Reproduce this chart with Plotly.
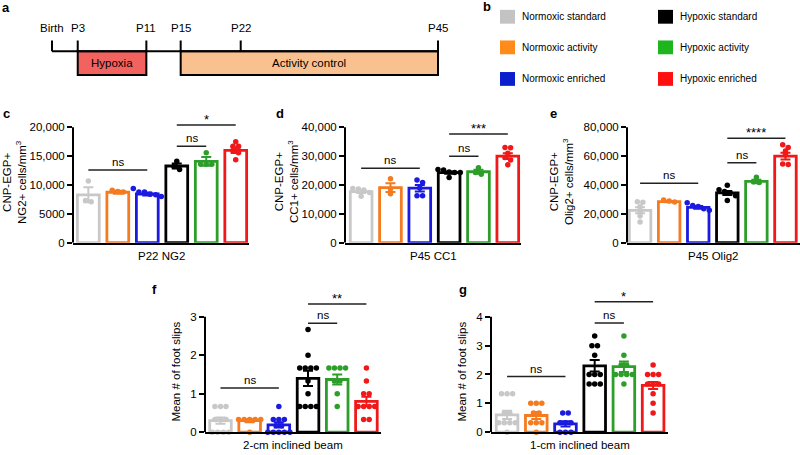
import numpy as np
import plotly.graph_objects as go

W, H = 800, 455
FONT = "Liberation Sans, Arial, Helvetica, sans-serif"


def px(x):
    return x / W


def py(y):
    return 1 - y / H


# ---------------- data ----------------
groups = ["Normoxic standard", "Normoxic activity", "Normoxic enriched",
          "Hypoxic standard", "Hypoxic activity", "Hypoxic enriched"]
bar_colors = ["#C8C8C8", "#F47B20", "#1A1AE0", "#000000", "#2E9E2A", "#F01818"]
legend_colors = ["#C3C3C3", "#FF8C1A", "#0A1ECC", "#000000", "#1FB51F", "#FF1010"]

# panel a timeline
timeline_days = [0, 3, 11, 15, 22, 45]
timeline_labels = ["Birth", "P3", "P11", "P15", "P22", "P45"]
hypoxia_period = [3, 11]
activity_period = [15, 45]

# panel c  P22 NG2
ng2_mean = [8300, 8750, 8450, 13300, 14100, 16000]
ng2_sem = [1300, 250, 250, 450, 750, 450]
ng2_points = [[10700, 7300, 7100], [9100, 8900, 8800],
              [9400, 8800, 8800, 8400, 8300, 8000], [14100, 13200, 12700],
              [15600, 13600, 13600, 13600], [17500, 16700, 16700, 15900, 15600, 14400]]
ng2_ticks = [0, 5000, 10000, 15000, 20000]
ng2_ticktext = ["0", "5000", "10,000", "15,000", "20,000"]
ng2_sig = [(0, 2, 12600, "ns"), (3, 4, 16700, "ns"), (3, 5, 20400, "*")]

# panel d  P45 CC1
cc1_mean = [17700, 19100, 18900, 24300, 24600, 30000]
cc1_sem = [500, 1500, 1100, 400, 700, 1000]
cc1_points = [[18800, 18600, 18300, 17400, 16100], [22200, 18600, 17000],
              [21700, 20900, 19000, 16300, 16300],
              [25400, 25200, 24500, 24300, 24300, 22600], [26000, 24300, 23700],
              [33000, 32900, 31000, 29500, 28700, 27000]]
cc1_ticks = [0, 10000, 20000, 30000, 40000]
cc1_ticktext = ["0", "10,000", "20,000", "30,000", "40,000"]
cc1_sig = [(0, 2, 25800, "ns"), (3, 4, 30000, "ns"), (3, 5, 37700, "***")]

# panel e  P45 Olig2
olig2_mean = [22500, 28500, 24500, 34500, 42500, 60000]
olig2_sem = [2100, 500, 900, 1400, 1200, 2300]
olig2_points = [[28500, 28000, 25000, 21000, 18500, 14400], [29600, 28900, 28300],
                [27800, 25800, 25200, 23600, 22500],
                [39900, 36700, 35500, 34400, 32600, 29200], [45400, 42200, 41800],
                [67900, 66000, 63500, 61000, 54500, 54200]]
olig2_ticks = [0, 20000, 40000, 60000, 80000]
olig2_ticktext = ["0", "20,000", "40,000", "60,000", "80,000"]
olig2_sig = [(0, 2, 41200, "ns"), (3, 4, 55400, "ns"), (3, 5, 72400, "****")]

# panel f  2-cm inclined beam
beam2_mean = [0.30, 0.30, 0.19, 1.40, 1.37, 0.80]
beam2_sem = [0.08, 0.04, 0.07, 0.20, 0.13, 0.12]
beam2_points = [[0.67, 0.67, 0.67, 0.33, 0.33, 0.33, 0, 0, 0, 0],
                [0.33, 0.33, 0.33, 0.33, 0.33, 0],
                [0.67, 0.33, 0.33, 0.33, 0.17, 0.17, 0, 0, 0, 0, 0],
                [2.67, 2.0, 1.67, 1.67, 1.67, 1.67, 1.33, 1.0, 0.67, 0.67, 0.67, 0.67],
                [1.67, 1.67, 1.67, 1.67, 1.33, 1.33, 1.0, 0.67],
                [1.67, 1.33, 1.0, 1.0, 0.67, 0.67, 0.67, 0.67, 0.33, 0.33]]
beam2_ticks = [0, 1, 2, 3]
beam2_ticktext = ["0", "1", "2", "3"]
beam2_sig = [(0, 2, 1.15, "ns"), (3, 4, 2.83, "ns"), (3, 5, 3.33, "**")]

# panel g  1-cm inclined beam
beam1_mean = [0.60, 0.58, 0.29, 2.30, 2.27, 1.62]
beam1_sem = [0.14, 0.12, 0.09, 0.20, 0.18, 0.12]
beam1_points = [[1.33, 1.33, 1.33, 0.67, 0.67, 0.33, 0.33, 0.33, 0.33, 0],
                [1.0, 1.0, 1.0, 0.67, 0.67, 0.33, 0.33, 0.33, 0],
                [0.67, 0.67, 0.33, 0.33, 0.33, 0, 0, 0],
                [3.33, 3.0, 3.0, 2.67, 2.0, 2.0, 2.0, 1.67, 1.67, 1.67],
                [3.33, 2.67, 2.33, 2.33, 2.0, 2.0, 2.0, 2.0, 1.67],
                [2.33, 2.0, 2.0, 2.0, 1.67, 1.67, 1.67, 1.33, 1.0, 0.67]]
beam1_ticks = [0, 1, 2, 3, 4]
beam1_ticktext = ["0", "1", "2", "3", "4"]
beam1_sig = [(0, 2, 1.93, "ns"), (3, 4, 3.78, "ns"), (3, 5, 4.52, "*")]

# ---------------- layout of panels (pixel geometry) ----------------
panels = [
    dict(ax="2", mean=ng2_mean, sem=ng2_sem, pts=ng2_points, ticks=ng2_ticks,
         ticktext=ng2_ticktext, sig=ng2_sig, xpx=(73, 249), xr=(-0.52, 5.45), ybot=246,
         title="CNP-EGP+<br>NG2+ cells/mm<sup>3</sup>", tx=14, xlabel="P22 NG2",
         letter="c", lpos=(1, 115)),
    dict(ax="3", mean=cc1_mean, sem=cc1_sem, pts=cc1_points, ticks=cc1_ticks,
         ticktext=cc1_ticktext, sig=cc1_sig, xpx=(345, 521), xr=(-0.55, 5.45), ybot=246,
         title="CNP-EGP+<br>CC1+ cells/mm<sup>3</sup>", tx=286, xlabel="P45 CC1",
         letter="d", lpos=(274, 115)),
    dict(ax="4", mean=olig2_mean, sem=olig2_sem, pts=olig2_points, ticks=olig2_ticks,
         ticktext=olig2_ticktext, sig=olig2_sig, xpx=(627, 800), xr=(-0.45, 5.5), ybot=246,
         title="CNP-EGP+<br>Olig2+ cells/mm<sup>3</sup>", tx=561, xlabel="P45 Olig2",
         letter="e", lpos=(548, 115)),
    dict(ax="5", mean=beam2_mean, sem=beam2_sem, pts=beam2_points, ticks=beam2_ticks,
         ticktext=beam2_ticktext, sig=beam2_sig, xpx=(205, 381), xr=(-0.53, 5.5), ybot=438,
         title="Mean # of foot slips", tx=176, xlabel="2-cm inclined beam",
         letter="f", lpos=(150, 293)),
    dict(ax="6", mean=beam1_mean, sem=beam1_sem, pts=beam1_points, ticks=beam1_ticks,
         ticktext=beam1_ticktext, sig=beam1_sig, xpx=(491, 668), xr=(-0.55, 5.51), ybot=438,
         title="Mean # of foot slips", tx=462, xlabel="1-cm inclined beam",
         letter="g", lpos=(457, 293)),
]

TICK_PX = 117      # pixel length from 0 to top tick
EXTEND = 1.2       # range extension above top tick (room for significance bars)


def swarm(vals, tol, step):
    vals = np.asarray(vals, dtype=float)
    order = np.argsort(-vals, kind="stable")
    offs = np.zeros(len(vals))
    clusters, cur = [], [order[0]]
    for a, b in zip(order[:-1], order[1:]):
        if abs(vals[b] - vals[a]) <= tol:
            cur.append(b)
        else:
            clusters.append(cur)
            cur = [b]
    clusters.append(cur)
    for cl in clusters:
        n = len(cl)
        for k, idx in enumerate(cl):
            offs[idx] = (k - (n - 1) / 2) * step
    return offs


fig = go.Figure()
shapes, annotations = [], []
layout = dict()


def ann(text, x, y, size=11.5, xref="paper", yref="paper", xanchor="center",
        yanchor="middle", **kw):
    d = dict(text=text, x=x, y=y, xref=xref, yref=yref, showarrow=False,
             xanchor=xanchor, yanchor=yanchor,
             font=dict(family=FONT, size=size, color="black"))
    d.update(kw)
    annotations.append(d)


for p in panels:
    a = p["ax"]
    xa, ya = "x" + a, "y" + a
    top = p["ticks"][-1]
    ymax = top * EXTEND
    ybot = p["ybot"]
    ytop = ybot - TICK_PX * EXTEND
    layout["xaxis" + a] = dict(domain=[px(p["xpx"][0]), px(p["xpx"][1])], range=list(p["xr"]),
                               anchor=ya, showline=True, linecolor="black", linewidth=2,
                               showticklabels=False, ticks="", showgrid=False, zeroline=False)
    layout["yaxis" + a] = dict(domain=[py(ybot), py(ytop)], range=[0, ymax], anchor=xa,
                               tickvals=p["ticks"], ticktext=p["ticktext"], ticks="outside",
                               ticklen=5, tickwidth=2, tickcolor="black", showline=False,
                               showgrid=False, zeroline=False,
                               tickfont=dict(family=FONT, size=11.5, color="black"))
    # y axis line up to the top tick
    shapes.append(dict(type="line", xref=xa + " domain", yref=ya, x0=0, x1=0, y0=0, y1=top,
                       line=dict(color="black", width=2)))
    # bars
    fig.add_trace(go.Bar(x=list(range(6)), y=p["mean"], width=0.74, xaxis=xa, yaxis=ya,
                         marker=dict(color="white", line=dict(color=bar_colors, width=2.8)),
                         showlegend=False, hoverinfo="skip"))
    tol = 0.03 * top if top > 100 else 0.05
    for i in range(6):
        fig.add_trace(go.Scatter(x=[i], y=[p["mean"][i]], mode="markers", xaxis=xa, yaxis=ya,
                                 marker=dict(size=1, color="rgba(0,0,0,0)"),
                                 error_y=dict(type="data", array=[p["sem"][i]], color=bar_colors[i],
                                              thickness=2, width=5),
                                 showlegend=False, hoverinfo="skip"))
    for i in range(6):
        pts = p["pts"][i]
        offs = swarm(pts, tol, 0.19)
        fig.add_trace(go.Scatter(x=list(i + offs), y=pts, mode="markers", xaxis=xa, yaxis=ya,
                                 marker=dict(size=5.5, color=bar_colors[i]), cliponaxis=False,
                                 showlegend=False, hoverinfo="skip"))
    # significance bars
    for (x0, x1, yv, lab) in p["sig"]:
        shapes.append(dict(type="line", xref=xa, yref=ya, x0=x0, x1=x1, y0=yv, y1=yv,
                           line=dict(color="#222222", width=1.5)))
        if lab == "ns":
            ann(lab, (x0 + x1) / 2, yv, size=11.5, xref=xa, yref=ya, yanchor="bottom", yshift=0)
        else:
            ann(lab, (x0 + x1) / 2, yv, size=13, xref=xa, yref=ya, yanchor="bottom", yshift=-4)
    # titles
    ann(p["title"], px(p["tx"]), py((ybot + ybot - TICK_PX) / 2 - 3), textangle=-90)
    ann(p["xlabel"], (px(p["xpx"][0]) + px(p["xpx"][1])) / 2, py(ybot + 13))
    ann("<b>%s</b>" % p["letter"], px(p["lpos"][0]), py(p["lpos"][1]), size=13, xanchor="left")

# ---------------- panel a: timeline ----------------
day0_px, slope = 52.0, 8.578
layout["xaxis"] = dict(domain=[px(day0_px - 1.5 * slope), px(day0_px + 46.5 * slope)],
                       range=[-1.5, 46.5], visible=False, anchor="y")
layout["yaxis"] = dict(domain=[py(80), py(20)], range=[0, 1], visible=False, anchor="x")
LINE_Y, TICK_Y, BOX_Y = 0.467, 0.65, 0.067
for (x0, x1), fillc in [(hypoxia_period, "#F2625F"), (activity_period, "#F9C18F")]:
    shapes.append(dict(type="rect", xref="x", yref="y", x0=x0, x1=x1, y0=BOX_Y, y1=LINE_Y,
                       fillcolor=fillc, line=dict(color="black", width=2)))
shapes.append(dict(type="line", xref="x", yref="y", x0=timeline_days[0], x1=timeline_days[-1],
                   y0=LINE_Y, y1=LINE_Y, line=dict(color="black", width=2)))
for d, lab in zip(timeline_days, timeline_labels):
    shapes.append(dict(type="line", xref="x", yref="y", x0=d, x1=d, y0=LINE_Y, y1=TICK_Y,
                       line=dict(color="black", width=2)))
    ann(lab, d, 0.867, xref="x", yref="y")
ann("Hypoxia", sum(hypoxia_period) / 2, (LINE_Y + BOX_Y) / 2, xref="x", yref="y")
ann("Activity control", sum(activity_period) / 2, (LINE_Y + BOX_Y) / 2, xref="x", yref="y")
ann("<b>a</b>", px(0), py(8), size=13, xanchor="left")

# ---------------- panel b: legend ----------------
ann("<b>b</b>", px(481), py(7), size=13, xanchor="left")
row_y = [17, 48, 80]
col_x = [500, 658]
for k, g in enumerate(groups):
    col, row = k // 3, k % 3
    x0 = col_x[col]
    yc = row_y[row]
    shapes.append(dict(type="rect", xref="paper", yref="paper", x0=px(x0), x1=px(x0 + 15),
                       y0=py(yc + 7), y1=py(yc - 7), fillcolor=legend_colors[k], line=dict(width=0)))
    ann(g, px(x0 + 20), py(yc), size=10, xanchor="left")

fig.update_layout(width=W, height=H, margin=dict(l=0, r=0, t=0, b=0),
                  paper_bgcolor="white", plot_bgcolor="white", showlegend=False,
                  barmode="overlay", shapes=shapes, annotations=annotations,
                  font=dict(family=FONT, color="black"), **layout)
fig.write_html("out.html", config={"displayModeBar": False},
               post_script="document.body.style.margin='0';")
